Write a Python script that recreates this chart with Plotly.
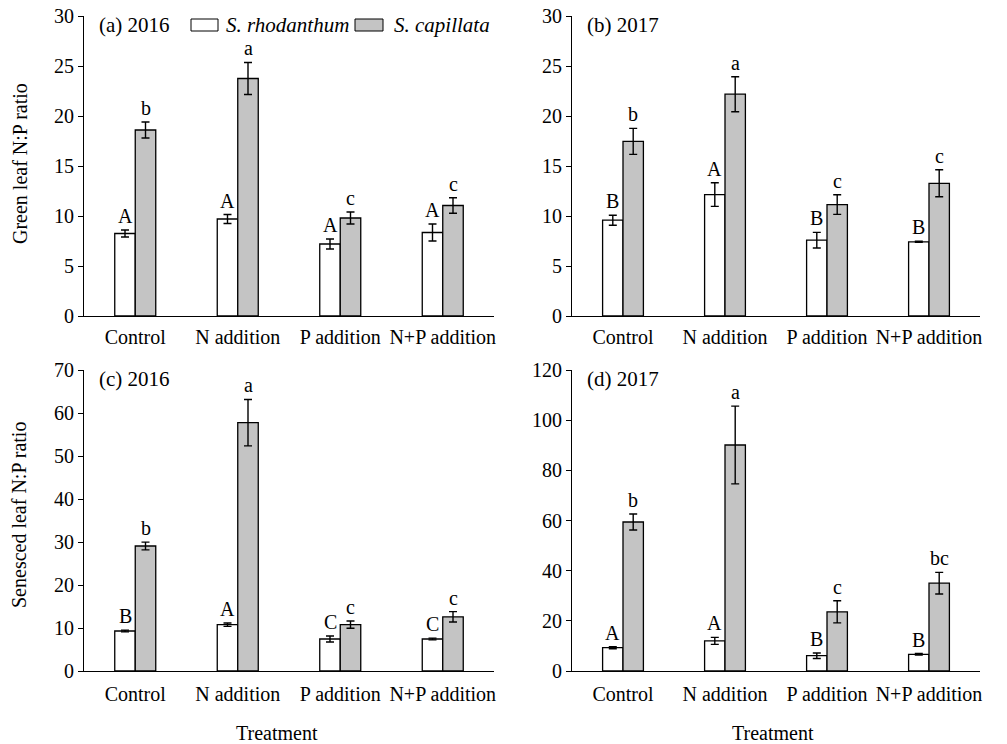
import plotly.graph_objects as go

categories = ["Control", "N addition", "P addition", "N+P addition"]
species = ["S. rhodanthum", "S. capillata"]

# (a) green leaf 2016
green16_rho = [8.25, 9.7, 7.2, 8.35]
green16_rho_se = [0.35, 0.45, 0.5, 0.85]
green16_cap = [18.6, 23.75, 9.8, 11.05]
green16_cap_se = [0.8, 1.6, 0.6, 0.78]
green16_rho_lab = ["A", "A", "A", "A"]
green16_cap_lab = ["b", "a", "c", "c"]

# (b) green leaf 2017
green17_rho = [9.58, 12.14, 7.58, 7.42]
green17_rho_se = [0.5, 1.18, 0.78, 0.06]
green17_cap = [17.46, 22.18, 11.14, 13.27]
green17_cap_se = [1.3, 1.75, 0.98, 1.35]
green17_rho_lab = ["B", "A", "B", "B"]
green17_cap_lab = ["b", "a", "c", "c"]

# (c) senesced leaf 2016
sen16_rho = [9.3, 10.78, 7.44, 7.44]
sen16_rho_se = [0.2, 0.4, 0.7, 0.2]
sen16_cap = [29.07, 57.75, 10.78, 12.6]
sen16_cap_se = [0.9, 5.4, 0.85, 1.2]
sen16_rho_lab = ["B", "A", "C", "C"]
sen16_cap_lab = ["b", "a", "c", "c"]

# (d) senesced leaf 2017
sen17_rho = [9.3, 12.0, 6.1, 6.66]
sen17_rho_se = [0.4, 1.4, 1.1, 0.3]
sen17_cap = [59.4, 90.1, 23.6, 35.0]
sen17_cap_se = [3.2, 15.5, 4.4, 4.3]
sen17_rho_lab = ["A", "A", "B", "B"]
sen17_cap_lab = ["b", "a", "c", "bc"]

panel_titles = ["(a) 2016", "(b) 2017", "(c) 2016", "(d) 2017"]
y_ranges = [30, 30, 70, 120]
y_steps = [5, 5, 10, 20]

W, H = 1007, 744
FONT = "Liberation Serif"
GRAY = "#c4c4c4"

def px(x):
    return x / W

def py(y):
    return 1 - y / H

# plot areas (left, right, top, bottom) in pixels
areas = [(84, 494, 16, 316), (572, 980, 16, 316),
         (84, 494, 370, 671), (572, 980, 370, 671)]
label_gap = [3, 3, 5, 5]

panels = [
    (green16_rho, green16_rho_se, green16_cap, green16_cap_se, green16_rho_lab, green16_cap_lab),
    (green17_rho, green17_rho_se, green17_cap, green17_cap_se, green17_rho_lab, green17_cap_lab),
    (sen16_rho, sen16_rho_se, sen16_cap, sen16_cap_se, sen16_rho_lab, sen16_cap_lab),
    (sen17_rho, sen17_rho_se, sen17_cap, sen17_cap_se, sen17_rho_lab, sen17_cap_lab),
]

xpos = list(range(len(categories)))
fig = go.Figure()
annotations = []
layout_axes = {}

for i, (rho, rho_se, cap, cap_se, rho_lab, cap_lab) in enumerate(panels):
    k = "" if i == 0 else str(i + 1)
    xa, ya = "x" + k, "y" + k
    for vals, errs, color, name in [(rho, rho_se, "white", species[0]),
                                    (cap, cap_se, GRAY, species[1])]:
        fig.add_trace(go.Bar(
            x=xpos, y=vals, name=name, xaxis=xa, yaxis=ya,
            marker=dict(color=color, line=dict(color="black", width=1.3)),
            error_y=dict(type="data", array=errs, visible=True,
                         color="black", thickness=1.4, width=4),
            showlegend=False,
        ))
    for j in xpos:
        for off, v, e, lab in [(-0.1, rho[j], rho_se[j], rho_lab[j]),
                               (0.1, cap[j], cap_se[j], cap_lab[j])]:
            annotations.append(dict(
                x=j + off, y=v + e, xref=xa, yref=ya, text=lab,
                showarrow=False, yanchor="bottom", yshift=1,
                font=dict(family=FONT, size=20, color="black")))
    l, r, t, b = areas[i]
    layout_axes["xaxis" + k] = dict(
        domain=[px(l), px(r)], anchor=ya, range=[-0.5, 3.5],
        tickvals=xpos, ticktext=categories, showline=True, linecolor="black",
        linewidth=1, ticks="outside", ticklen=label_gap[i],
        tickcolor="rgba(0,0,0,0)", automargin=False,
        showgrid=False, zeroline=False,
        tickfont=dict(family=FONT, size=20, color="black"))
    layout_axes["yaxis" + k] = dict(
        domain=[py(b), py(t)], anchor=xa, range=[0, y_ranges[i]],
        dtick=y_steps[i], tick0=0, showline=True, linecolor="black",
        linewidth=1, ticks="outside", ticklen=5, tickcolor="black",
        automargin=False, showgrid=False, zeroline=False,
        tickfont=dict(family=FONT, size=20, color="black"))
    annotations.append(dict(
        x=px(l + 13), y=py(t + 9), xref="paper", yref="paper",
        text=panel_titles[i], showarrow=False, xanchor="left", yanchor="middle",
        font=dict(family=FONT, size=21, color="black")))

# axis titles
title_font = dict(family=FONT, size=20, color="black")
annotations += [
    dict(x=px(20), y=py(164), xref="paper", yref="paper",
         text="Green leaf N:P ratio", textangle=-90, showarrow=False,
         xanchor="center", yanchor="middle", font=title_font),
    dict(x=px(19), y=py(515), xref="paper", yref="paper",
         text="Senesced leaf N:P ratio", textangle=-90, showarrow=False,
         xanchor="center", yanchor="middle", font=title_font),
    dict(x=px(277), y=py(733), xref="paper", yref="paper", text="Treatment",
         showarrow=False, xanchor="center", yanchor="middle", font=title_font),
    dict(x=px(773), y=py(733), xref="paper", yref="paper", text="Treatment",
         showarrow=False, xanchor="center", yanchor="middle", font=title_font),
]

# species key drawn in the top-left panel
shapes = []
key_items = [(191, 218, "white", species[0], 224), (355, 383, GRAY, species[1], 392)]
for x0, x1, color, name, tx in key_items:
    shapes.append(dict(type="rect", xref="paper", yref="paper",
                       x0=px(x0), x1=px(x1), y0=py(31), y1=py(19),
                       fillcolor=color, line=dict(color="black", width=1)))
    annotations.append(dict(x=px(tx), y=py(25), xref="paper", yref="paper",
                            text="<i>" + name + "</i>", showarrow=False,
                            xanchor="left", yanchor="middle",
                            font=dict(family=FONT, size=21, color="black")))

fig.update_layout(
    width=W, height=H, margin=dict(l=0, r=0, t=0, b=0, autoexpand=False),
    paper_bgcolor="white", plot_bgcolor="white",
    barmode="group", bargap=0.6, bargroupgap=0,
    annotations=annotations, shapes=shapes,
    font=dict(family=FONT, color="black"),
    **layout_axes,
)

fig.write_html("out.html")
